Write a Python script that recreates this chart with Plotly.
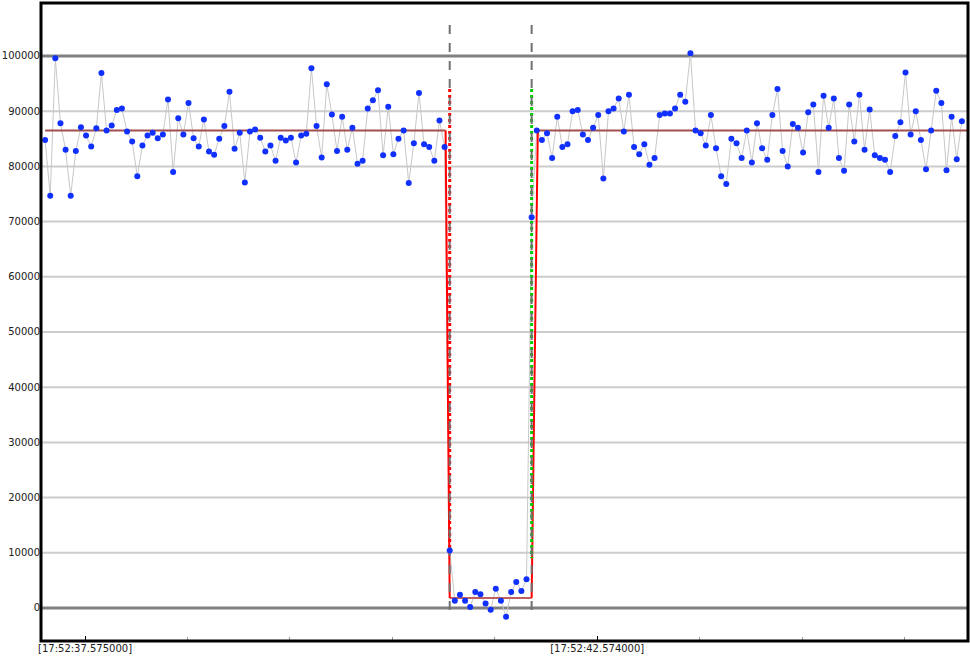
import plotly.graph_objects as go

left_vals = [84800,74700,99600,87800,83000,74700,82800,87100,85600,83600,86900,96900,86500,87400,90200,90500,
             86300,84500,78200,83800,85600,86100,85100,85800,92100,79000,88700,85800,91500,85100,83600,88500,
             82700,82100,85000,87300,93500,83200,86100,77100,86300,86700,85200,82700,83800,81000,85200,84700,
             85200,80700,85600,85900,97800,87300,81600,94900,89400,
             82800,89000,83000,87000,80500,81000,90500,92000,93800,82000,90800,82200,85000,86500,77000,84200,
             93300,84000,83500,81000,88300,83500]
low_vals = [10400,1300,2400,1300,200,2900,2500,800,-300,3500,1300,-1600,2900,4700,3100,5200]
right_vals = [70800,86500,84800,86000,81500,89000,83500,84000,90000,90200,85800,84800,87000,89300,77800,90000,
              90500,92300,86300,93000,83500,82200,84000,80300,81500,89300,89600,89600,90500,93000,91700,100500,
              86500,86000,83800,89300,83300,78200,76800,85000,84200,81500,86500,80700,87800,83300,81200,89300,
              94000,82800,80000,87700,87000,82500,89800,91200,79000,92800,87000,92300,81500,79200,91200,84500,
              93000,83000,90300,82000,81500,81200,79000,85500,88000,97000,85800,90000,84800,79500,86500,93700,
              91500,79300,89000,81300,88200]
values = left_vals + low_vals + right_vals
dt = 0.05
t = [i * dt for i in range(len(values))]
i_drop = len(left_vals)
i_rise = len(left_vals) + len(low_vals)
high_mean = 86500
low_mean = 1800
tick_pos = [0.39, 5.39]
tick_text = ["[17:52:37.575000]", "[17:52:42.574000]"]
y_ticks = list(range(0, 100001, 10000))

x_end = t[-1] + 0.1
td, tr = t[i_drop], t[i_rise]

fig = go.Figure()
fig.add_trace(go.Scatter(x=t, y=values, mode="lines", line=dict(color="#c8c8c8", width=1), hoverinfo="skip"))
fig.add_trace(go.Scatter(x=[t[0], td - 0.04], y=[high_mean, high_mean], mode="lines", line=dict(color="#a05050", width=2)))
fig.add_trace(go.Scatter(x=[td, tr], y=[low_mean, low_mean], mode="lines", line=dict(color="#c06060", width=2)))
fig.add_trace(go.Scatter(x=[tr + 0.06, x_end], y=[high_mean, high_mean], mode="lines", line=dict(color="#a05050", width=2)))
fig.add_trace(go.Scatter(x=[td - 0.04, td], y=[high_mean, low_mean], mode="lines", line=dict(color="#ff0000", width=2)))
fig.add_trace(go.Scatter(x=[tr, tr + 0.06], y=[low_mean, high_mean], mode="lines", line=dict(color="#ff0000", width=2)))
fig.add_trace(go.Scatter(x=[td, td], y=[94000, values[i_drop]], mode="lines", line=dict(color="#ff0000", width=3, dash="dot")))
fig.add_trace(go.Scatter(x=[tr, tr], y=[94000, 9000], mode="lines", line=dict(color="#00cc00", width=3, dash="dot")))
for xe in (td, tr):
    fig.add_trace(go.Scatter(x=[xe, xe], y=[105600, -1800], mode="lines", line=dict(color="#707070", width=2, dash="dash")))
fig.add_trace(go.Scatter(x=t, y=values, mode="markers", marker=dict(color="#1030ff", size=6), hoverinfo="skip"))

shapes = []
for v in range(10000, 100000, 10000):
    shapes.append(dict(type="line", xref="paper", x0=0, x1=1, y0=v, y1=v, layer="below", line=dict(color="#cccccc", width=2)))
for v in (0, 100000):
    shapes.append(dict(type="line", xref="paper", x0=0, x1=1, y0=v, y1=v, layer="below", line=dict(color="#808080", width=3)))
shapes.append(dict(type="rect", xref="paper", yref="paper", x0=0, x1=1, y0=0, y1=1, line=dict(color="black", width=3)))

fig.update_layout(
    width=970, height=660, margin=dict(l=41, r=2, t=3, b=19, autoexpand=False),
    plot_bgcolor="white", paper_bgcolor="white", showlegend=False, shapes=shapes,
    font=dict(family="DejaVu Sans", size=10, color="#202020"),
    xaxis=dict(range=[-0.04, 9.01], showgrid=False, zeroline=False, tickvals=tick_pos, ticktext=tick_text,
               ticks="inside", ticklen=5, tickcolor="black", automargin=False, tickfont=dict(size=10),
               minor=dict(tick0=0.39, dtick=1, ticks="inside", ticklen=4, tickcolor="#999999")),
    yaxis=dict(range=[-5980, 109600], showgrid=False, zeroline=False, tickvals=y_ticks,
               ticktext=[str(v) for v in y_ticks], ticks="", automargin=False),
)
fig.write_html("out.html", config={"displayModeBar": False})
with open("out.html", encoding="utf-8") as f:
    html = f.read()
html = html.replace("<head>", "<head><style>html,body{margin:0;padding:0;overflow:hidden;}</style>", 1)
with open("out.html", "w", encoding="utf-8") as f:
    f.write(html)
